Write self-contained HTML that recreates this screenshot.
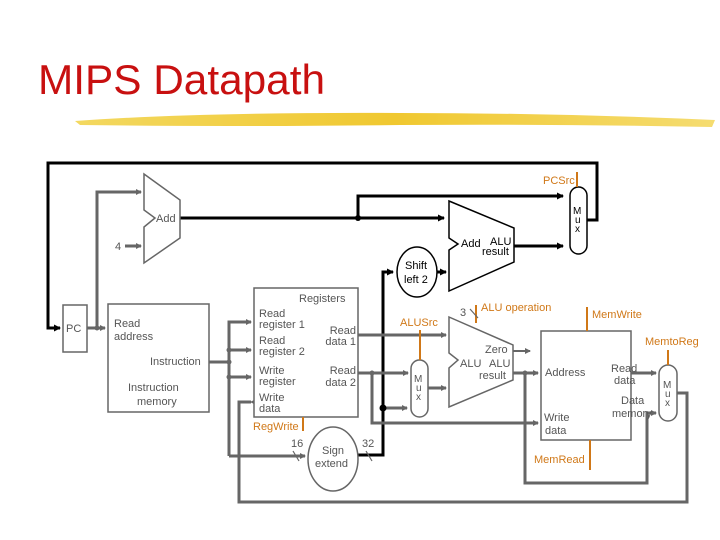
<!DOCTYPE html>
<html><head><style>
html,body{margin:0;padding:0;background:#fff;width:720px;height:540px;overflow:hidden}
svg{display:block}
text{font-family:"Liberation Sans",sans-serif;font-size:11px;fill:#555}
.o{fill:#d07818}
</style></head><body>
<svg width="720" height="540" viewBox="0 0 720 540">
<defs>
<marker id="ag" markerWidth="6" markerHeight="6" refX="5" refY="3" orient="auto" markerUnits="userSpaceOnUse"><path d="M0,0 L6,3 L0,6 z" fill="#666"/></marker>
<marker id="ab" markerWidth="7" markerHeight="7" refX="6" refY="3.5" orient="auto" markerUnits="userSpaceOnUse"><path d="M0,0 L7,3.5 L0,7 z" fill="#000"/></marker>
<linearGradient id="yg" x1="0" x2="1"><stop offset="0" stop-color="#f3d860"/><stop offset="0.5" stop-color="#f0c830"/><stop offset="1" stop-color="#f5dc70"/></linearGradient>
</defs>
<text x="38" y="94" textLength="287" lengthAdjust="spacingAndGlyphs" style="font-size:42px;fill:#c81010">MIPS Datapath</text>
<path d="M75,121 Q200,112 400,113 Q560,113 715,120 L712,127 Q560,124 400,125 Q220,127 80,125 Z" fill="url(#yg)"/>

<g fill="none" stroke="#000" stroke-width="3">
<path d="M587,220 H597 V163 H48 V328 H60" marker-end="url(#ab)"/>
<path d="M180,218 H444" marker-end="url(#ab)"/>
<path d="M358,218 V196 H563" marker-end="url(#ab)"/>
<path d="M514,246 H563" marker-end="url(#ab)"/>
<path d="M437,272 H446" marker-end="url(#ab)"/>
<path d="M358,455 H383 V272 H393" marker-end="url(#ab)"/>
<path d="M383,408 H407" stroke="#666" marker-end="url(#ag)"/>
</g>
<circle cx="358" cy="218" r="3"/>
<circle cx="383" cy="408" r="3.5"/>

<g fill="none" stroke="#666" stroke-width="3">
<path d="M87,328 H105" marker-end="url(#ag)"/>
<path d="M97,328 V192 H141" marker-end="url(#ag)"/>
<path d="M125,246 H141" marker-end="url(#ag)"/>
<path d="M209,362 H229"/>
<path d="M229,456 V322 H251" marker-end="url(#ag)"/>
<path d="M229,350 H251" marker-end="url(#ag)"/>
<path d="M229,377 H251" marker-end="url(#ag)"/>
<path d="M229,456 H305" marker-end="url(#ag)"/>
<path d="M251,402 H239 V502 H687 V393 H677" marker-start="url(#ag)"/>
<path d="M358,335 H446" marker-end="url(#ag)"/>
<path d="M358,373 H408" marker-end="url(#ag)"/>
<path d="M372,373 V423 H538" marker-end="url(#ag)"/>
<path d="M428,388 H446" marker-end="url(#ag)"/>
<path d="M513,373 H538" marker-end="url(#ag)"/>
<path d="M525,373 V483 H647 V413 H656" marker-end="url(#ag)"/>
<path d="M631,373 H656" marker-end="url(#ag)"/>
<path d="M513,351 H530" stroke-width="2" marker-end="url(#ag)"/>
</g>
<circle cx="97" cy="328" r="2.5" fill="#666"/>
<circle cx="229" cy="350" r="2.5" fill="#666"/>
<circle cx="229" cy="362" r="2.5" fill="#666"/>
<circle cx="229" cy="377" r="2.5" fill="#666"/>
<circle cx="372" cy="373" r="2.5" fill="#666"/>
<circle cx="525" cy="373" r="2.5" fill="#666"/>

<g fill="#fff" stroke="#666" stroke-width="1.5">
<rect x="63" y="305" width="24" height="47"/>
<rect x="108" y="304" width="101" height="108"/>
<rect x="254" y="288" width="104" height="129"/>
<rect x="541" y="331" width="90" height="109"/>
<path d="M144,174 L180,200 L180,238 L144,263 L144,227 L155,218 L144,210 Z"/>
<path d="M449,317 L513,345 L513,380 L449,407 L449,368 L458,360 L449,353 Z"/>
<rect x="411" y="360" width="17" height="57" rx="8.5"/>
<rect x="659" y="365" width="18" height="56" rx="9"/>
<ellipse cx="333" cy="459" rx="25" ry="32"/>
</g>
<g fill="#fff" stroke="#000" stroke-width="1.5">
<path d="M449,201 L514,228 L514,262 L449,291 L449,250 L458,244 L449,238 Z"/>
<rect x="570" y="187" width="17" height="67" rx="8.5"/>
<ellipse cx="417" cy="272" rx="20" ry="25"/>
</g>

<g stroke="#d07818" stroke-width="2">
<line x1="577" y1="172" x2="577" y2="187"/>
<line x1="420" y1="330" x2="420" y2="360"/>
<line x1="476" y1="305" x2="476" y2="323"/>
<line x1="587" y1="307" x2="587" y2="331"/>
<line x1="668" y1="350" x2="668" y2="365"/>
<line x1="590" y1="440" x2="590" y2="470"/>
<line x1="303" y1="417" x2="303" y2="431"/>
</g>
<g stroke="#666" stroke-width="1.2">
<line x1="470" y1="309" x2="478" y2="318"/>
<line x1="293" y1="451" x2="299" y2="461"/>
<line x1="366" y1="451" x2="372" y2="461"/>
</g>

<text x="66" y="332">PC</text>
<text x="156" y="222">Add</text>
<text x="115" y="250">4</text>
<text x="114" y="327">Read</text>
<text x="114" y="340">address</text>
<text x="150" y="365">Instruction</text>
<text x="128" y="391">Instruction</text>
<text x="137" y="405">memory</text>
<text x="299" y="302">Registers</text>
<text x="259" y="317">Read</text>
<text x="259" y="328">register 1</text>
<text x="259" y="344">Read</text>
<text x="259" y="355">register 2</text>
<text x="259" y="374">Write</text>
<text x="259" y="385">register</text>
<text x="259" y="401">Write</text>
<text x="259" y="412">data</text>
<text x="356" y="334" text-anchor="end">Read</text>
<text x="356" y="345" text-anchor="end">data 1</text>
<text x="356" y="374" text-anchor="end">Read</text>
<text x="356" y="386" text-anchor="end">data 2</text>
<text x="322" y="454">Sign</text>
<text x="315" y="467">extend</text>
<text x="291" y="447">16</text>
<text x="362" y="447">32</text>
<text x="405" y="269" style="fill:#000">Shift</text>
<text x="404" y="283" style="fill:#000">left 2</text>
<text x="461" y="247" style="fill:#000">Add</text>
<text x="490" y="245" style="fill:#000">ALU</text>
<text x="482" y="255" style="fill:#000">result</text>
<text x="573" y="214" style="fill:#000;font-size:10px">M</text>
<text x="575" y="223" style="fill:#000;font-size:10px">u</text>
<text x="575" y="232" style="fill:#000;font-size:10px">x</text>
<text x="414" y="382" style="font-size:10px">M</text>
<text x="416" y="391" style="font-size:10px">u</text>
<text x="416" y="400" style="font-size:10px">x</text>
<text x="663" y="388" style="font-size:10px">M</text>
<text x="665" y="397" style="font-size:10px">u</text>
<text x="665" y="406" style="font-size:10px">x</text>
<text x="485" y="353">Zero</text>
<text x="460" y="367">ALU</text>
<text x="489" y="367">ALU</text>
<text x="479" y="379">result</text>
<text x="545" y="376">Address</text>
<text x="611" y="372">Read</text>
<text x="614" y="384">data</text>
<text x="621" y="404">Data</text>
<text x="612" y="417">memory</text>
<text x="544" y="421">Write</text>
<text x="545" y="434">data</text>
<text x="460" y="316">3</text>
<text class="o" x="543" y="184">PCSrc</text>
<text class="o" x="400" y="326">ALUSrc</text>
<text class="o" x="481" y="311">ALU operation</text>
<text class="o" x="592" y="318">MemWrite</text>
<text class="o" x="645" y="345">MemtoReg</text>
<text class="o" x="534" y="463">MemRead</text>
<text class="o" x="253" y="430">RegWrite</text>
</svg>
</body></html>
